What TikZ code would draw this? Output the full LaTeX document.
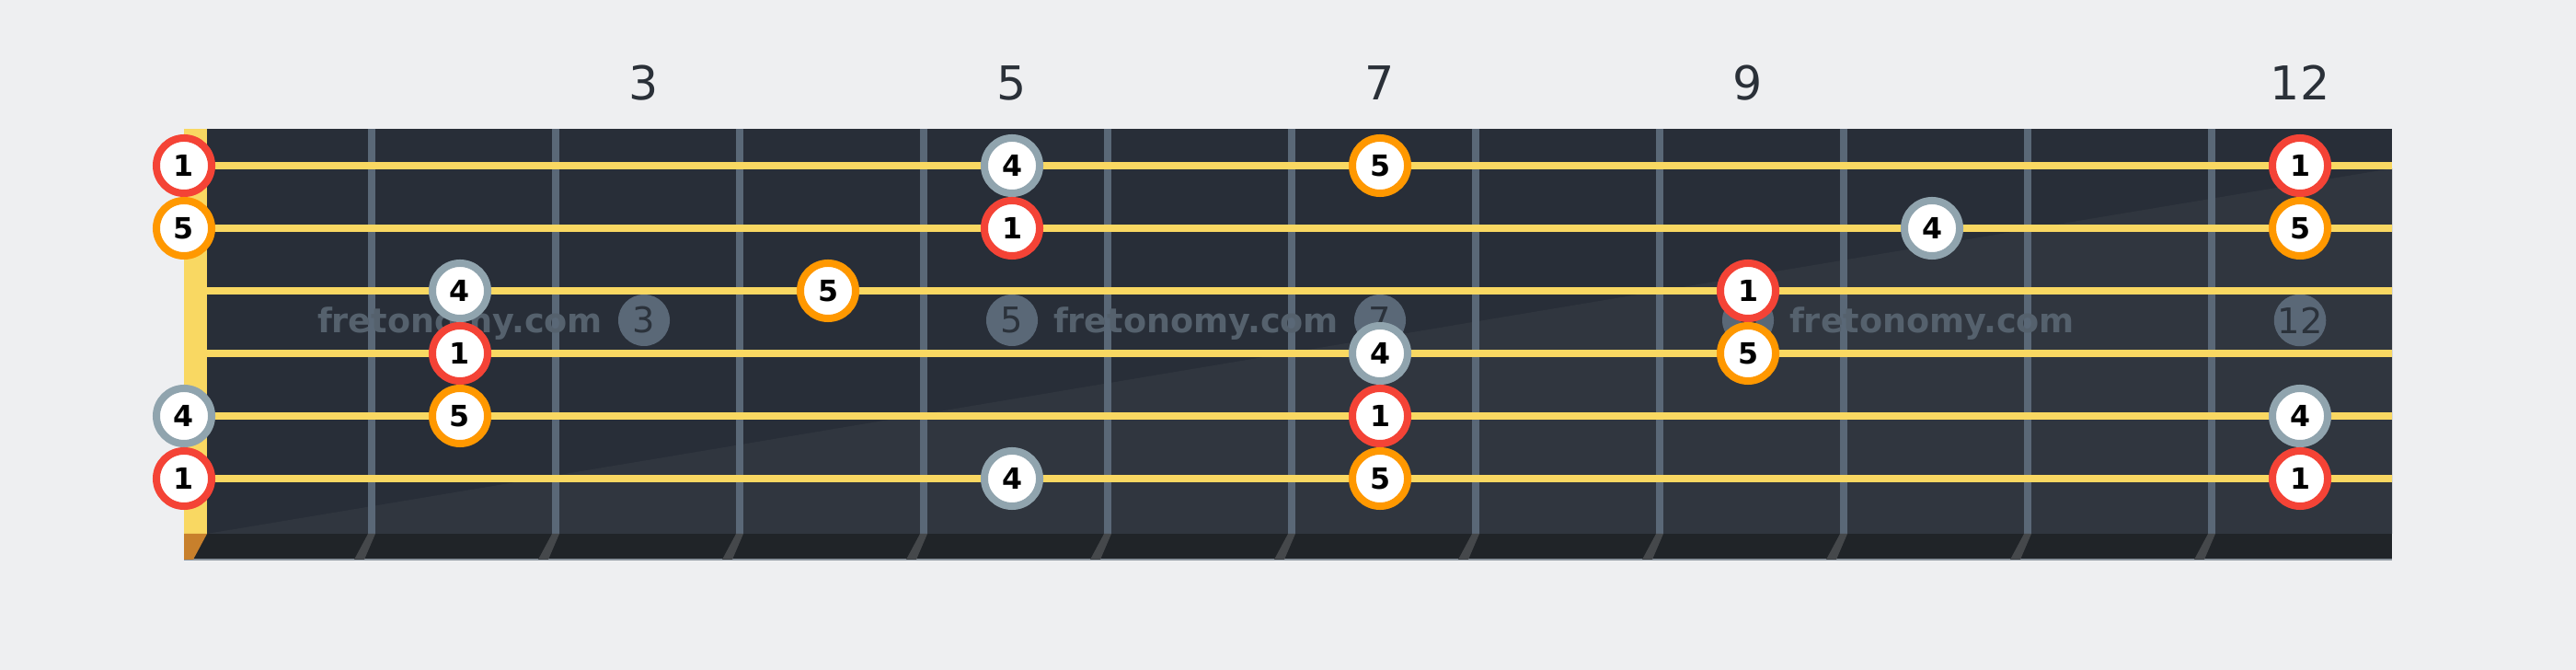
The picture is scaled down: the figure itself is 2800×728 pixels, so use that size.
\documentclass[tikz,border=0pt]{standalone}
\usepackage{fontspec}
\setmainfont{DejaVu Sans}
\usetikzlibrary{positioning}

\definecolor{bgcol}{HTML}{EEEFF1}
\definecolor{board}{HTML}{282E38}
\definecolor{boardlight}{HTML}{30363F}
\definecolor{nutyellow}{HTML}{F9D862}
\definecolor{nutbrown}{HTML}{C8802C}
\definecolor{footdark}{HTML}{202428}
\definecolor{footline}{HTML}{8A939C}
\definecolor{fretgray}{HTML}{5A6877}
\definecolor{fretfoot}{HTML}{45484B}
\definecolor{dotink}{HTML}{2B323B}
\definecolor{numink}{HTML}{2A3038}
\definecolor{stampgray}{HTML}{55616D}
\definecolor{rootred}{HTML}{F44336}
\definecolor{fifthorange}{HTML}{FF9800}
\definecolor{fourthgray}{HTML}{90A4AE}

\begin{document}
\begin{tikzpicture}[x=0.01cm,y=-0.01cm]
            \tikzstyle{tone}=[circle,draw,line width=0.08cm,fill=white,minimum size=0.6cm,inner sep=0pt,text=black,font=\fontsize{9}{9}\selectfont\bfseries]
            \tikzstyle{rootnote}=[tone,draw=rootred]
            \tikzstyle{fifthnote}=[tone,draw=fifthorange]
            \tikzstyle{fourthnote}=[tone,draw=fourthgray]
            \tikzstyle{inlay}=[circle,fill=fretgray,minimum size=0.56cm,inner sep=0pt,text=dotink,font=\fontsize{10.9}{11}\selectfont]
            \tikzstyle{fretnum}=[text=numink,font=\fontsize{14.4}{15}\selectfont]
            \tikzstyle{stamp}=[text=stampgray,anchor=base,font=\fontsize{10.4}{11}\selectfont\bfseries]

            \fill[bgcol] (0,0) rectangle (2800,728);
            \useasboundingbox (0,0) rectangle (2800,728);

            % board and nut
            \fill[board] (225,140) rectangle (2600,580);
            \fill[boardlight] (225,580) -- (2600,183) -- (2600,580) -- cycle;
            \fill[nutyellow] (200,140) rectangle (225,580);
            \fill[footdark] (200,580) rectangle (2600,608);
            \draw[footline,line width=0.02cm] (200,608) -- (2600,608);
            \fill[nutbrown] (200,580) -- (225,580) -- (210,608) -- (200,608) -- cycle;

            % frets
            \foreach \f in {1,...,11} {
                \fill[fretgray] ({200*\f+200},140) rectangle ({200*\f+208},580);
                \fill[fretfoot] ({200*\f+200},580) -- ({200*\f+208},580) -- ({200*\f+196},608) -- ({200*\f+185},608) -- cycle;
            }

            % inlays and watermark
            \foreach \f in {3,5,7,9,12}
                \node[inlay] (inlay\f) at ({200*\f+100},348) {\f};
            \foreach \x/\n in {500/a,1300/b,2100/c}
                \node[stamp] (stamp-\n) at (\x,362) {fretonomy.com};

            % strings
            \foreach \s in {1,...,6}
                \draw[nutyellow,line width=0.08cm] (225,{112+68*\s}) coordinate (str\s) -- (2600,{112+68*\s});

            % fret numbers
            \foreach \f in {3,5,7,9,12}
                \node[fretnum] (num\f) at ({200*\f+100},90) {\f};

            % scale tones: string/fret/degree/style
            \foreach \s/\f/\d/\k in {1/0/1/rootnote, 1/5/4/fourthnote, 1/7/5/fifthnote, 1/12/1/rootnote,
                                     2/0/5/fifthnote, 2/5/1/rootnote, 2/10/4/fourthnote, 2/12/5/fifthnote,
                                     3/2/4/fourthnote, 3/4/5/fifthnote, 3/9/1/rootnote,
                                     4/2/1/rootnote, 4/7/4/fourthnote, 4/9/5/fifthnote,
                                     5/0/4/fourthnote, 5/2/5/fifthnote, 5/7/1/rootnote, 5/12/4/fourthnote,
                                     6/0/1/rootnote, 6/5/4/fourthnote, 6/7/5/fifthnote, 6/12/1/rootnote}
                \node[\k] (t\s-\f) at ({\f==0 ? 200 : 200*\f+100},{112+68*\s}) {\d};
\end{tikzpicture}
\end{document}
